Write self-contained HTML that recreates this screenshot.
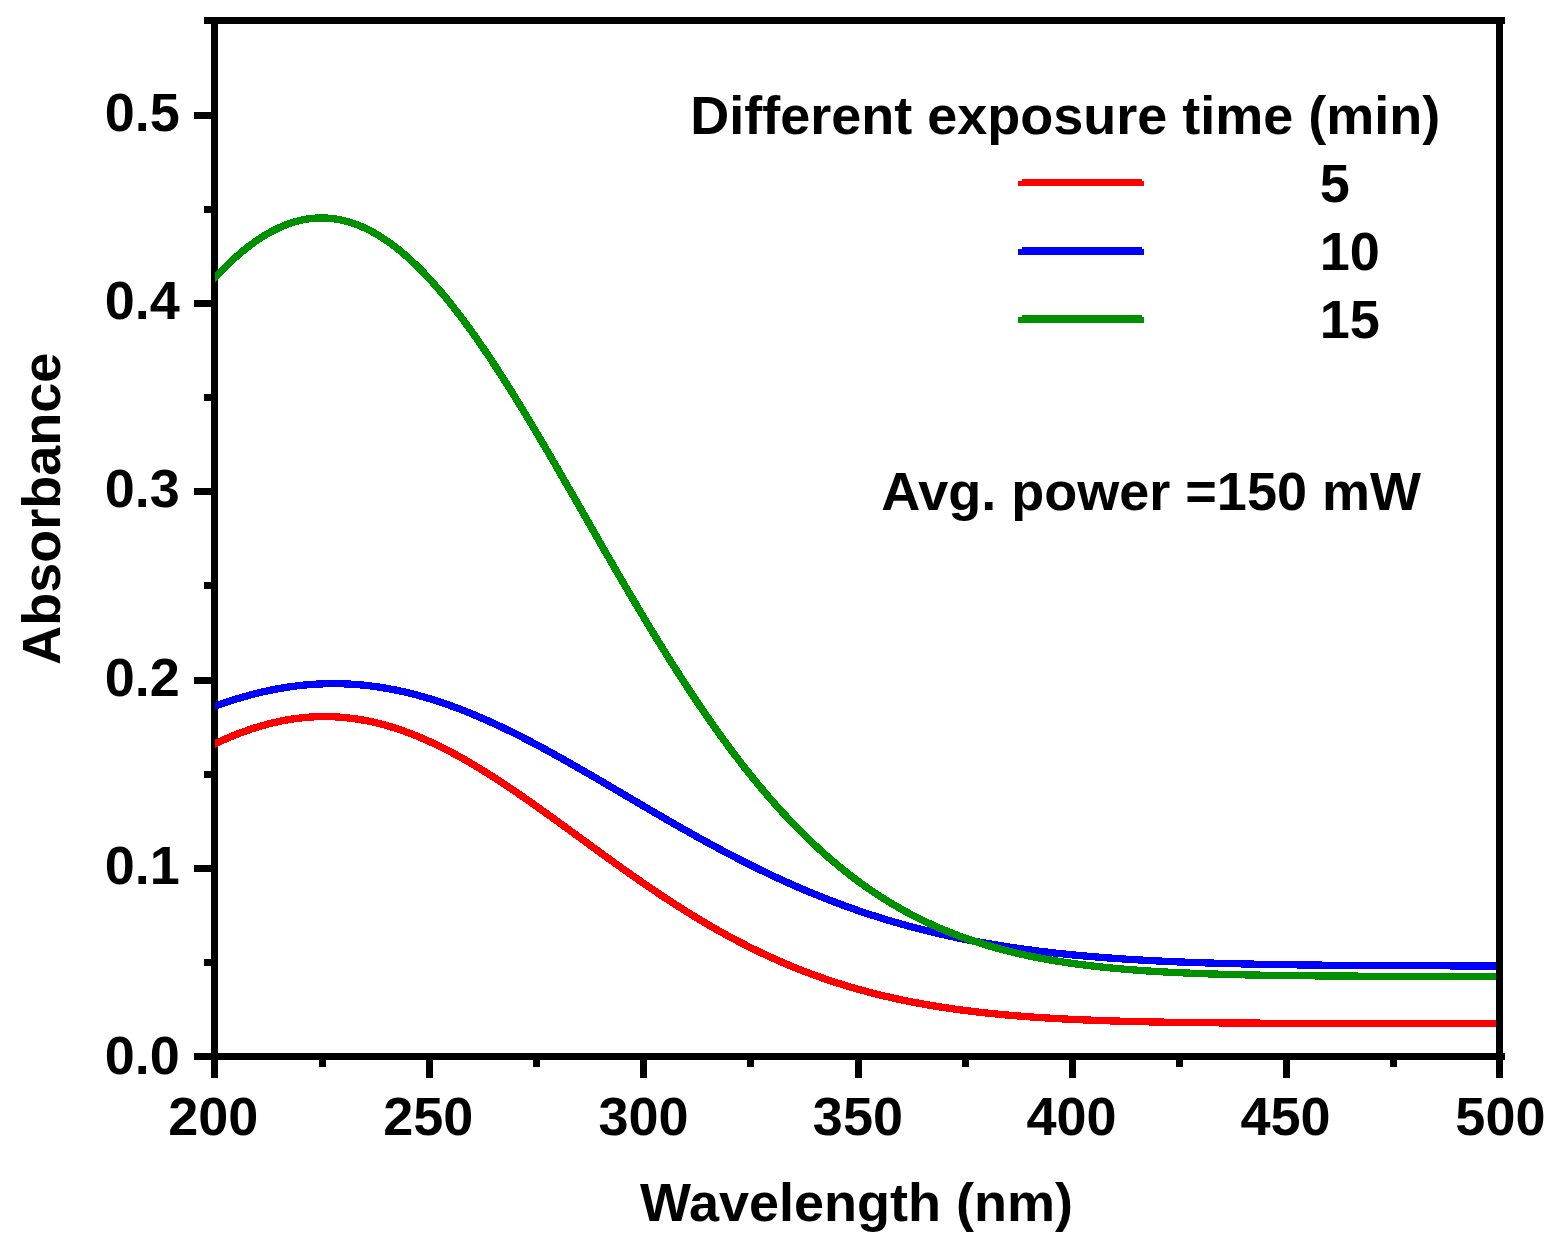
<!DOCTYPE html>
<html><head><meta charset="utf-8"><title>Absorbance vs Wavelength</title>
<style>
html,body{margin:0;padding:0;background:#fff;overflow:hidden;}
svg{display:block;}
text{font-family:"Liberation Sans",Arial,sans-serif;font-weight:bold;font-size:54px;fill:#000;}
</style></head><body>
<svg width="1553" height="1249" viewBox="0 0 1553 1249">
<rect width="1553" height="1249" fill="#fff"/>
<g fill="#000" shape-rendering="crispEdges">
<rect x="211.2" y="17" width="7" height="1043"/>
<rect x="1496.1" y="17" width="7" height="1043"/>
<rect x="204" y="17" width="1300.8" height="7"/>
<rect x="194" y="1053.1" width="1310.8" height="7"/>
<rect x="194" y="1053.1" width="20" height="7"/>
<rect x="204" y="958.9" width="10" height="7"/>
<rect x="194" y="864.8" width="20" height="7"/>
<rect x="204" y="770.6" width="10" height="7"/>
<rect x="194" y="676.5" width="20" height="7"/>
<rect x="204" y="582.3" width="10" height="7"/>
<rect x="194" y="488.1" width="20" height="7"/>
<rect x="204" y="394.0" width="10" height="7"/>
<rect x="194" y="299.8" width="20" height="7"/>
<rect x="204" y="205.7" width="10" height="7"/>
<rect x="194" y="111.5" width="20" height="7"/>
<rect x="204" y="17.3" width="10" height="7"/>
<rect x="211.2" y="1056" width="7" height="21.7"/>
<rect x="318.6" y="1056" width="7" height="10.8"/>
<rect x="425.9" y="1056" width="7" height="21.7"/>
<rect x="532.9" y="1056" width="7" height="10.8"/>
<rect x="640.0" y="1056" width="7" height="21.7"/>
<rect x="747.2" y="1056" width="7" height="10.8"/>
<rect x="854.5" y="1056" width="7" height="21.7"/>
<rect x="961.6" y="1056" width="7" height="10.8"/>
<rect x="1068.9" y="1056" width="7" height="21.7"/>
<rect x="1176.1" y="1056" width="7" height="10.8"/>
<rect x="1283.2" y="1056" width="7" height="21.7"/>
<rect x="1389.9" y="1056" width="7" height="10.8"/>
<rect x="1496.1" y="1056" width="7" height="21.7"/>
</g>
<defs><clipPath id="c"><rect x="215.1" y="20" width="1281" height="1037"/></clipPath></defs>
<g clip-path="url(#c)" fill="none" stroke-width="7.3" stroke-linejoin="round" shape-rendering="crispEdges">
<path stroke="#f00" d="M212.0,745.16 L214.0,744.20 L216.0,743.25 L218.0,742.32 L220.0,741.41 L222.0,740.50 L224.0,739.62 L226.0,738.74 L228.0,737.89 L230.0,737.05 L232.0,736.22 L234.0,735.41 L236.0,734.61 L238.0,733.83 L240.0,733.06 L242.0,732.32 L244.0,731.58 L246.0,730.87 L248.0,730.17 L250.0,729.48 L252.0,728.81 L254.0,728.16 L256.0,727.53 L258.0,726.91 L260.0,726.31 L262.0,725.73 L264.0,725.16 L266.0,724.62 L268.0,724.08 L270.0,723.57 L272.0,723.08 L274.0,722.60 L276.0,722.14 L278.0,721.70 L280.0,721.27 L282.0,720.86 L284.0,720.48 L286.0,720.11 L288.0,719.76 L290.0,719.42 L292.0,719.11 L294.0,718.81 L296.0,718.53 L298.0,718.27 L300.0,718.03 L302.0,717.81 L304.0,717.61 L306.0,717.42 L308.0,717.26 L310.0,717.11 L312.0,716.98 L314.0,716.87 L316.0,716.78 L318.0,716.71 L320.0,716.66 L322.0,716.62 L324.0,716.61 L326.0,716.61 L328.0,716.63 L330.0,716.67 L332.0,716.73 L334.0,716.81 L336.0,716.91 L338.0,717.03 L340.0,717.17 L342.0,717.32 L344.0,717.49 L346.0,717.69 L348.0,717.90 L350.0,718.13 L352.0,718.37 L354.0,718.64 L356.0,718.93 L358.0,719.23 L360.0,719.55 L362.0,719.89 L364.0,720.25 L366.0,720.63 L368.0,721.03 L370.0,721.44 L372.0,721.87 L374.0,722.32 L376.0,722.79 L378.0,723.27 L380.0,723.77 L382.0,724.29 L384.0,724.83 L386.0,725.39 L388.0,725.96 L390.0,726.55 L392.0,727.16 L394.0,727.78 L396.0,728.42 L398.0,729.08 L400.0,729.75 L402.0,730.44 L404.0,731.15 L406.0,731.87 L408.0,732.61 L410.0,733.37 L412.0,734.14 L414.0,734.93 L416.0,735.73 L418.0,736.55 L420.0,737.38 L422.0,738.23 L424.0,739.09 L426.0,739.97 L428.0,740.86 L430.0,741.77 L432.0,742.69 L434.0,743.63 L436.0,744.58 L438.0,745.54 L440.0,746.52 L442.0,747.51 L444.0,748.52 L446.0,749.54 L448.0,750.57 L450.0,751.61 L452.0,752.67 L454.0,753.74 L456.0,754.82 L458.0,755.91 L460.0,757.02 L462.0,758.13 L464.0,759.26 L466.0,760.40 L468.0,761.56 L470.0,762.72 L472.0,763.89 L474.0,765.08 L476.0,766.27 L478.0,767.48 L480.0,768.69 L482.0,769.92 L484.0,771.15 L486.0,772.39 L488.0,773.65 L490.0,774.91 L492.0,776.18 L494.0,777.46 L496.0,778.75 L498.0,780.04 L500.0,781.35 L502.0,782.66 L504.0,783.98 L506.0,785.31 L508.0,786.64 L510.0,787.99 L512.0,789.33 L514.0,790.69 L516.0,792.05 L518.0,793.42 L520.0,794.79 L522.0,796.17 L524.0,797.56 L526.0,798.95 L528.0,800.34 L530.0,801.74 L532.0,803.15 L534.0,804.56 L536.0,805.97 L538.0,807.39 L540.0,808.82 L542.0,810.24 L544.0,811.67 L546.0,813.11 L548.0,814.54 L550.0,815.98 L552.0,817.42 L554.0,818.87 L556.0,820.32 L558.0,821.77 L560.0,823.22 L562.0,824.67 L564.0,826.13 L566.0,827.58 L568.0,829.04 L570.0,830.50 L572.0,831.96 L574.0,833.42 L576.0,834.88 L578.0,836.34 L580.0,837.80 L582.0,839.26 L584.0,840.72 L586.0,842.18 L588.0,843.64 L590.0,845.10 L592.0,846.56 L594.0,848.02 L596.0,849.47 L598.0,850.93 L600.0,852.38 L602.0,853.83 L604.0,855.28 L606.0,856.73 L608.0,858.17 L610.0,859.61 L612.0,861.05 L614.0,862.49 L616.0,863.92 L618.0,865.36 L620.0,866.78 L622.0,868.21 L624.0,869.63 L626.0,871.05 L628.0,872.46 L630.0,873.87 L632.0,875.28 L634.0,876.68 L636.0,878.07 L638.0,879.47 L640.0,880.86 L642.0,882.24 L644.0,883.62 L646.0,884.99 L648.0,886.36 L650.0,887.73 L652.0,889.08 L654.0,890.44 L656.0,891.78 L658.0,893.13 L660.0,894.46 L662.0,895.79 L664.0,897.12 L666.0,898.44 L668.0,899.75 L670.0,901.05 L672.0,902.35 L674.0,903.65 L676.0,904.93 L678.0,906.21 L680.0,907.49 L682.0,908.76 L684.0,910.02 L686.0,911.27 L688.0,912.51 L690.0,913.75 L692.0,914.99 L694.0,916.21 L696.0,917.43 L698.0,918.64 L700.0,919.84 L702.0,921.04 L704.0,922.22 L706.0,923.40 L708.0,924.58 L710.0,925.74 L712.0,926.90 L714.0,928.05 L716.0,929.19 L718.0,930.32 L720.0,931.45 L722.0,932.56 L724.0,933.67 L726.0,934.77 L728.0,935.87 L730.0,936.95 L732.0,938.03 L734.0,939.10 L736.0,940.16 L738.0,941.21 L740.0,942.25 L742.0,943.29 L744.0,944.32 L746.0,945.34 L748.0,946.35 L750.0,947.35 L752.0,948.34 L754.0,949.33 L756.0,950.31 L758.0,951.27 L760.0,952.23 L762.0,953.19 L764.0,954.13 L766.0,955.06 L768.0,955.99 L770.0,956.91 L772.0,957.82 L774.0,958.72 L776.0,959.61 L778.0,960.50 L780.0,961.37 L782.0,962.24 L784.0,963.10 L786.0,963.95 L788.0,964.79 L790.0,965.63 L792.0,966.45 L794.0,967.27 L796.0,968.08 L798.0,968.88 L800.0,969.67 L802.0,970.46 L804.0,971.23 L806.0,972.00 L808.0,972.76 L810.0,973.51 L812.0,974.26 L814.0,974.99 L816.0,975.72 L818.0,976.44 L820.0,977.15 L822.0,977.85 L824.0,978.55 L826.0,979.24 L828.0,979.92 L830.0,980.59 L832.0,981.25 L834.0,981.91 L836.0,982.56 L838.0,983.20 L840.0,983.83 L842.0,984.46 L844.0,985.08 L846.0,985.69 L848.0,986.29 L850.0,986.89 L852.0,987.48 L854.0,988.06 L856.0,988.64 L858.0,989.20 L860.0,989.76 L862.0,990.32 L864.0,990.86 L866.0,991.40 L868.0,991.93 L870.0,992.46 L872.0,992.98 L874.0,993.49 L876.0,993.99 L878.0,994.49 L880.0,994.98 L882.0,995.47 L884.0,995.95 L886.0,996.42 L888.0,996.88 L890.0,997.34 L892.0,997.79 L894.0,998.24 L896.0,998.68 L898.0,999.11 L900.0,999.54 L902.0,999.96 L904.0,1000.38 L906.0,1000.79 L908.0,1001.19 L910.0,1001.59 L912.0,1001.98 L914.0,1002.37 L916.0,1002.75 L918.0,1003.13 L920.0,1003.50 L922.0,1003.86 L924.0,1004.22 L926.0,1004.57 L928.0,1004.92 L930.0,1005.27 L932.0,1005.60 L934.0,1005.94 L936.0,1006.26 L938.0,1006.59 L940.0,1006.90 L942.0,1007.21 L944.0,1007.52 L946.0,1007.82 L948.0,1008.12 L950.0,1008.42 L952.0,1008.70 L954.0,1008.99 L956.0,1009.27 L958.0,1009.54 L960.0,1009.81 L962.0,1010.08 L964.0,1010.34 L966.0,1010.60 L968.0,1010.85 L970.0,1011.10 L972.0,1011.34 L974.0,1011.58 L976.0,1011.82 L978.0,1012.05 L980.0,1012.28 L982.0,1012.51 L984.0,1012.73 L986.0,1012.95 L988.0,1013.16 L990.0,1013.37 L992.0,1013.57 L994.0,1013.78 L996.0,1013.98 L998.0,1014.17 L1000.0,1014.36 L1002.0,1014.55 L1004.0,1014.74 L1006.0,1014.92 L1008.0,1015.10 L1010.0,1015.27 L1012.0,1015.45 L1014.0,1015.62 L1016.0,1015.78 L1018.0,1015.94 L1020.0,1016.10 L1022.0,1016.26 L1024.0,1016.42 L1026.0,1016.57 L1028.0,1016.72 L1030.0,1016.86 L1032.0,1017.00 L1034.0,1017.15 L1036.0,1017.28 L1038.0,1017.42 L1040.0,1017.55 L1042.0,1017.68 L1044.0,1017.81 L1046.0,1017.93 L1048.0,1018.06 L1050.0,1018.18 L1052.0,1018.29 L1054.0,1018.41 L1056.0,1018.52 L1058.0,1018.64 L1060.0,1018.74 L1062.0,1018.85 L1064.0,1018.96 L1066.0,1019.06 L1068.0,1019.16 L1070.0,1019.26 L1072.0,1019.35 L1074.0,1019.45 L1076.0,1019.54 L1078.0,1019.63 L1080.0,1019.72 L1082.0,1019.81 L1084.0,1019.89 L1086.0,1019.98 L1088.0,1020.06 L1090.0,1020.14 L1092.0,1020.22 L1094.0,1020.30 L1096.0,1020.37 L1098.0,1020.45 L1100.0,1020.52 L1102.0,1020.59 L1104.0,1020.66 L1106.0,1020.73 L1108.0,1020.79 L1110.0,1020.86 L1112.0,1020.92 L1114.0,1020.98 L1116.0,1021.04 L1118.0,1021.10 L1120.0,1021.16 L1122.0,1021.22 L1124.0,1021.27 L1126.0,1021.33 L1128.0,1021.38 L1130.0,1021.43 L1132.0,1021.48 L1134.0,1021.53 L1136.0,1021.58 L1138.0,1021.63 L1140.0,1021.68 L1142.0,1021.72 L1144.0,1021.77 L1146.0,1021.81 L1148.0,1021.85 L1150.0,1021.89 L1152.0,1021.94 L1154.0,1021.98 L1156.0,1022.01 L1158.0,1022.05 L1160.0,1022.09 L1162.0,1022.12 L1164.0,1022.16 L1166.0,1022.19 L1168.0,1022.23 L1170.0,1022.26 L1172.0,1022.29 L1174.0,1022.32 L1176.0,1022.36 L1178.0,1022.39 L1180.0,1022.41 L1182.0,1022.44 L1184.0,1022.47 L1186.0,1022.50 L1188.0,1022.52 L1190.0,1022.55 L1192.0,1022.58 L1194.0,1022.60 L1196.0,1022.62 L1198.0,1022.65 L1200.0,1022.67 L1202.0,1022.69 L1204.0,1022.72 L1206.0,1022.74 L1208.0,1022.76 L1210.0,1022.78 L1212.0,1022.80 L1214.0,1022.82 L1216.0,1022.84 L1218.0,1022.85 L1220.0,1022.87 L1222.0,1022.89 L1224.0,1022.91 L1226.0,1022.92 L1228.0,1022.94 L1230.0,1022.95 L1232.0,1022.97 L1234.0,1022.98 L1236.0,1023.00 L1238.0,1023.01 L1240.0,1023.03 L1242.0,1023.04 L1244.0,1023.05 L1246.0,1023.07 L1248.0,1023.08 L1250.0,1023.09 L1252.0,1023.10 L1254.0,1023.11 L1256.0,1023.13 L1258.0,1023.14 L1260.0,1023.15 L1262.0,1023.16 L1264.0,1023.17 L1266.0,1023.18 L1268.0,1023.19 L1270.0,1023.20 L1272.0,1023.20 L1274.0,1023.21 L1276.0,1023.22 L1278.0,1023.23 L1280.0,1023.24 L1282.0,1023.25 L1284.0,1023.25 L1286.0,1023.26 L1288.0,1023.27 L1290.0,1023.28 L1292.0,1023.28 L1294.0,1023.29 L1296.0,1023.30 L1298.0,1023.30 L1300.0,1023.31 L1302.0,1023.31 L1304.0,1023.32 L1306.0,1023.33 L1308.0,1023.33 L1310.0,1023.34 L1312.0,1023.34 L1314.0,1023.35 L1316.0,1023.35 L1318.0,1023.36 L1320.0,1023.36 L1322.0,1023.37 L1324.0,1023.37 L1326.0,1023.37 L1328.0,1023.38 L1330.0,1023.38 L1332.0,1023.39 L1334.0,1023.39 L1336.0,1023.39 L1338.0,1023.40 L1340.0,1023.40 L1342.0,1023.40 L1344.0,1023.41 L1346.0,1023.41 L1348.0,1023.41 L1350.0,1023.42 L1352.0,1023.42 L1354.0,1023.42 L1356.0,1023.43 L1358.0,1023.43 L1360.0,1023.43 L1362.0,1023.43 L1364.0,1023.44 L1366.0,1023.44 L1368.0,1023.44 L1370.0,1023.44 L1372.0,1023.44 L1374.0,1023.45 L1376.0,1023.45 L1378.0,1023.45 L1380.0,1023.45 L1382.0,1023.45 L1384.0,1023.46 L1386.0,1023.46 L1388.0,1023.46 L1390.0,1023.46 L1392.0,1023.46 L1394.0,1023.46 L1396.0,1023.47 L1398.0,1023.47 L1400.0,1023.47 L1402.0,1023.47 L1404.0,1023.47 L1406.0,1023.47 L1408.0,1023.47 L1410.0,1023.48 L1412.0,1023.48 L1414.0,1023.48 L1416.0,1023.48 L1418.0,1023.48 L1420.0,1023.48 L1422.0,1023.48 L1424.0,1023.48 L1426.0,1023.48 L1428.0,1023.48 L1430.0,1023.49 L1432.0,1023.49 L1434.0,1023.49 L1436.0,1023.49 L1438.0,1023.49 L1440.0,1023.49 L1442.0,1023.49 L1444.0,1023.49 L1446.0,1023.49 L1448.0,1023.49 L1450.0,1023.49 L1452.0,1023.49 L1454.0,1023.49 L1456.0,1023.49 L1458.0,1023.49 L1460.0,1023.50 L1462.0,1023.50 L1464.0,1023.50 L1466.0,1023.50 L1468.0,1023.50 L1470.0,1023.50 L1472.0,1023.50 L1474.0,1023.50 L1476.0,1023.50 L1478.0,1023.50 L1480.0,1023.50 L1482.0,1023.50 L1484.0,1023.50 L1486.0,1023.50 L1488.0,1023.50 L1490.0,1023.50 L1492.0,1023.50 L1494.0,1023.50 L1496.0,1023.50 L1498.0,1023.50 L1500.0,1023.50"/>
<path stroke="#00f" d="M212.0,707.26 L214.0,706.52 L216.0,705.80 L218.0,705.08 L220.0,704.37 L222.0,703.67 L224.0,702.99 L226.0,702.31 L228.0,701.65 L230.0,700.99 L232.0,700.35 L234.0,699.72 L236.0,699.10 L238.0,698.49 L240.0,697.89 L242.0,697.30 L244.0,696.72 L246.0,696.16 L248.0,695.61 L250.0,695.07 L252.0,694.54 L254.0,694.02 L256.0,693.51 L258.0,693.02 L260.0,692.54 L262.0,692.07 L264.0,691.61 L266.0,691.17 L268.0,690.74 L270.0,690.31 L272.0,689.91 L274.0,689.51 L276.0,689.13 L278.0,688.76 L280.0,688.40 L282.0,688.06 L284.0,687.72 L286.0,687.40 L288.0,687.10 L290.0,686.80 L292.0,686.52 L294.0,686.26 L296.0,686.00 L298.0,685.76 L300.0,685.53 L302.0,685.31 L304.0,685.11 L306.0,684.92 L308.0,684.75 L310.0,684.58 L312.0,684.43 L314.0,684.30 L316.0,684.17 L318.0,684.06 L320.0,683.97 L322.0,683.88 L324.0,683.81 L326.0,683.76 L328.0,683.71 L330.0,683.68 L332.0,683.67 L334.0,683.66 L336.0,683.67 L338.0,683.70 L340.0,683.73 L342.0,683.78 L344.0,683.85 L346.0,683.92 L348.0,684.01 L350.0,684.12 L352.0,684.23 L354.0,684.36 L356.0,684.51 L358.0,684.66 L360.0,684.83 L362.0,685.02 L364.0,685.21 L366.0,685.42 L368.0,685.64 L370.0,685.88 L372.0,686.13 L374.0,686.39 L376.0,686.66 L378.0,686.95 L380.0,687.25 L382.0,687.56 L384.0,687.89 L386.0,688.23 L388.0,688.58 L390.0,688.94 L392.0,689.32 L394.0,689.71 L396.0,690.11 L398.0,690.52 L400.0,690.95 L402.0,691.39 L404.0,691.84 L406.0,692.30 L408.0,692.78 L410.0,693.27 L412.0,693.77 L414.0,694.28 L416.0,694.80 L418.0,695.34 L420.0,695.88 L422.0,696.44 L424.0,697.01 L426.0,697.59 L428.0,698.18 L430.0,698.79 L432.0,699.40 L434.0,700.03 L436.0,700.67 L438.0,701.32 L440.0,701.98 L442.0,702.65 L444.0,703.33 L446.0,704.02 L448.0,704.72 L450.0,705.44 L452.0,706.16 L454.0,706.89 L456.0,707.64 L458.0,708.39 L460.0,709.15 L462.0,709.93 L464.0,710.71 L466.0,711.50 L468.0,712.31 L470.0,713.12 L472.0,713.94 L474.0,714.77 L476.0,715.61 L478.0,716.46 L480.0,717.31 L482.0,718.18 L484.0,719.05 L486.0,719.94 L488.0,720.83 L490.0,721.73 L492.0,722.64 L494.0,723.55 L496.0,724.48 L498.0,725.41 L500.0,726.35 L502.0,727.30 L504.0,728.25 L506.0,729.22 L508.0,730.19 L510.0,731.16 L512.0,732.15 L514.0,733.14 L516.0,734.14 L518.0,735.14 L520.0,736.15 L522.0,737.17 L524.0,738.19 L526.0,739.22 L528.0,740.26 L530.0,741.30 L532.0,742.34 L534.0,743.40 L536.0,744.46 L538.0,745.52 L540.0,746.59 L542.0,747.66 L544.0,748.74 L546.0,749.83 L548.0,750.92 L550.0,752.01 L552.0,753.11 L554.0,754.21 L556.0,755.32 L558.0,756.43 L560.0,757.54 L562.0,758.66 L564.0,759.78 L566.0,760.91 L568.0,762.04 L570.0,763.17 L572.0,764.31 L574.0,765.45 L576.0,766.59 L578.0,767.74 L580.0,768.88 L582.0,770.03 L584.0,771.19 L586.0,772.34 L588.0,773.50 L590.0,774.66 L592.0,775.82 L594.0,776.99 L596.0,778.15 L598.0,779.32 L600.0,780.49 L602.0,781.66 L604.0,782.83 L606.0,784.00 L608.0,785.18 L610.0,786.35 L612.0,787.53 L614.0,788.70 L616.0,789.88 L618.0,791.06 L620.0,792.23 L622.0,793.41 L624.0,794.59 L626.0,795.77 L628.0,796.94 L630.0,798.12 L632.0,799.30 L634.0,800.48 L636.0,801.65 L638.0,802.83 L640.0,804.00 L642.0,805.18 L644.0,806.35 L646.0,807.52 L648.0,808.69 L650.0,809.86 L652.0,811.03 L654.0,812.20 L656.0,813.36 L658.0,814.53 L660.0,815.69 L662.0,816.85 L664.0,818.01 L666.0,819.16 L668.0,820.32 L670.0,821.47 L672.0,822.62 L674.0,823.76 L676.0,824.91 L678.0,826.05 L680.0,827.19 L682.0,828.33 L684.0,829.46 L686.0,830.59 L688.0,831.72 L690.0,832.84 L692.0,833.96 L694.0,835.08 L696.0,836.20 L698.0,837.31 L700.0,838.42 L702.0,839.52 L704.0,840.62 L706.0,841.72 L708.0,842.81 L710.0,843.90 L712.0,844.99 L714.0,846.07 L716.0,847.14 L718.0,848.22 L720.0,849.29 L722.0,850.35 L724.0,851.41 L726.0,852.47 L728.0,853.52 L730.0,854.57 L732.0,855.61 L734.0,856.65 L736.0,857.68 L738.0,858.71 L740.0,859.74 L742.0,860.76 L744.0,861.77 L746.0,862.78 L748.0,863.79 L750.0,864.79 L752.0,865.78 L754.0,866.77 L756.0,867.75 L758.0,868.73 L760.0,869.71 L762.0,870.68 L764.0,871.64 L766.0,872.60 L768.0,873.55 L770.0,874.50 L772.0,875.44 L774.0,876.38 L776.0,877.31 L778.0,878.24 L780.0,879.16 L782.0,880.07 L784.0,880.98 L786.0,881.88 L788.0,882.78 L790.0,883.67 L792.0,884.56 L794.0,885.44 L796.0,886.31 L798.0,887.18 L800.0,888.05 L802.0,888.90 L804.0,889.76 L806.0,890.60 L808.0,891.44 L810.0,892.28 L812.0,893.10 L814.0,893.93 L816.0,894.74 L818.0,895.55 L820.0,896.36 L822.0,897.16 L824.0,897.95 L826.0,898.74 L828.0,899.52 L830.0,900.29 L832.0,901.06 L834.0,901.82 L836.0,902.58 L838.0,903.33 L840.0,904.08 L842.0,904.82 L844.0,905.55 L846.0,906.28 L848.0,907.00 L850.0,907.71 L852.0,908.42 L854.0,909.13 L856.0,909.82 L858.0,910.52 L860.0,911.20 L862.0,911.88 L864.0,912.55 L866.0,913.22 L868.0,913.88 L870.0,914.54 L872.0,915.19 L874.0,915.84 L876.0,916.47 L878.0,917.11 L880.0,917.73 L882.0,918.36 L884.0,918.97 L886.0,919.58 L888.0,920.19 L890.0,920.78 L892.0,921.38 L894.0,921.96 L896.0,922.54 L898.0,923.12 L900.0,923.69 L902.0,924.25 L904.0,924.81 L906.0,925.37 L908.0,925.91 L910.0,926.46 L912.0,926.99 L914.0,927.53 L916.0,928.05 L918.0,928.57 L920.0,929.09 L922.0,929.60 L924.0,930.10 L926.0,930.60 L928.0,931.09 L930.0,931.58 L932.0,932.07 L934.0,932.54 L936.0,933.02 L938.0,933.48 L940.0,933.95 L942.0,934.41 L944.0,934.86 L946.0,935.31 L948.0,935.75 L950.0,936.19 L952.0,936.62 L954.0,937.05 L956.0,937.47 L958.0,937.89 L960.0,938.30 L962.0,938.71 L964.0,939.11 L966.0,939.51 L968.0,939.91 L970.0,940.30 L972.0,940.68 L974.0,941.06 L976.0,941.44 L978.0,941.81 L980.0,942.18 L982.0,942.54 L984.0,942.90 L986.0,943.25 L988.0,943.60 L990.0,943.94 L992.0,944.28 L994.0,944.62 L996.0,944.95 L998.0,945.28 L1000.0,945.61 L1002.0,945.93 L1004.0,946.24 L1006.0,946.55 L1008.0,946.86 L1010.0,947.16 L1012.0,947.46 L1014.0,947.76 L1016.0,948.05 L1018.0,948.34 L1020.0,948.63 L1022.0,948.91 L1024.0,949.18 L1026.0,949.46 L1028.0,949.73 L1030.0,949.99 L1032.0,950.25 L1034.0,950.51 L1036.0,950.77 L1038.0,951.02 L1040.0,951.27 L1042.0,951.51 L1044.0,951.76 L1046.0,951.99 L1048.0,952.23 L1050.0,952.46 L1052.0,952.69 L1054.0,952.91 L1056.0,953.14 L1058.0,953.35 L1060.0,953.57 L1062.0,953.78 L1064.0,953.99 L1066.0,954.20 L1068.0,954.40 L1070.0,954.60 L1072.0,954.80 L1074.0,954.99 L1076.0,955.19 L1078.0,955.38 L1080.0,955.56 L1082.0,955.74 L1084.0,955.93 L1086.0,956.10 L1088.0,956.28 L1090.0,956.45 L1092.0,956.62 L1094.0,956.79 L1096.0,956.95 L1098.0,957.12 L1100.0,957.28 L1102.0,957.43 L1104.0,957.59 L1106.0,957.74 L1108.0,957.89 L1110.0,958.04 L1112.0,958.19 L1114.0,958.33 L1116.0,958.47 L1118.0,958.61 L1120.0,958.74 L1122.0,958.88 L1124.0,959.01 L1126.0,959.14 L1128.0,959.27 L1130.0,959.40 L1132.0,959.52 L1134.0,959.64 L1136.0,959.76 L1138.0,959.88 L1140.0,960.00 L1142.0,960.11 L1144.0,960.22 L1146.0,960.33 L1148.0,960.44 L1150.0,960.55 L1152.0,960.65 L1154.0,960.76 L1156.0,960.86 L1158.0,960.96 L1160.0,961.06 L1162.0,961.15 L1164.0,961.25 L1166.0,961.34 L1168.0,961.43 L1170.0,961.52 L1172.0,961.61 L1174.0,961.70 L1176.0,961.78 L1178.0,961.87 L1180.0,961.95 L1182.0,962.03 L1184.0,962.11 L1186.0,962.19 L1188.0,962.26 L1190.0,962.34 L1192.0,962.41 L1194.0,962.49 L1196.0,962.56 L1198.0,962.63 L1200.0,962.70 L1202.0,962.76 L1204.0,962.83 L1206.0,962.90 L1208.0,962.96 L1210.0,963.02 L1212.0,963.08 L1214.0,963.15 L1216.0,963.20 L1218.0,963.26 L1220.0,963.32 L1222.0,963.38 L1224.0,963.43 L1226.0,963.49 L1228.0,963.54 L1230.0,963.59 L1232.0,963.64 L1234.0,963.69 L1236.0,963.74 L1238.0,963.79 L1240.0,963.84 L1242.0,963.88 L1244.0,963.93 L1246.0,963.97 L1248.0,964.02 L1250.0,964.06 L1252.0,964.10 L1254.0,964.15 L1256.0,964.19 L1258.0,964.23 L1260.0,964.27 L1262.0,964.30 L1264.0,964.34 L1266.0,964.38 L1268.0,964.41 L1270.0,964.45 L1272.0,964.48 L1274.0,964.52 L1276.0,964.55 L1278.0,964.58 L1280.0,964.62 L1282.0,964.65 L1284.0,964.68 L1286.0,964.71 L1288.0,964.74 L1290.0,964.77 L1292.0,964.79 L1294.0,964.82 L1296.0,964.85 L1298.0,964.88 L1300.0,964.90 L1302.0,964.93 L1304.0,964.95 L1306.0,964.98 L1308.0,965.00 L1310.0,965.02 L1312.0,965.05 L1314.0,965.07 L1316.0,965.09 L1318.0,965.11 L1320.0,965.13 L1322.0,965.15 L1324.0,965.18 L1326.0,965.20 L1328.0,965.21 L1330.0,965.23 L1332.0,965.25 L1334.0,965.27 L1336.0,965.29 L1338.0,965.31 L1340.0,965.32 L1342.0,965.34 L1344.0,965.36 L1346.0,965.37 L1348.0,965.39 L1350.0,965.40 L1352.0,965.42 L1354.0,965.43 L1356.0,965.45 L1358.0,965.46 L1360.0,965.47 L1362.0,965.49 L1364.0,965.50 L1366.0,965.51 L1368.0,965.53 L1370.0,965.54 L1372.0,965.55 L1374.0,965.56 L1376.0,965.57 L1378.0,965.58 L1380.0,965.59 L1382.0,965.60 L1384.0,965.62 L1386.0,965.63 L1388.0,965.64 L1390.0,965.65 L1392.0,965.65 L1394.0,965.66 L1396.0,965.67 L1398.0,965.68 L1400.0,965.69 L1402.0,965.70 L1404.0,965.71 L1406.0,965.72 L1408.0,965.72 L1410.0,965.73 L1412.0,965.74 L1414.0,965.75 L1416.0,965.75 L1418.0,965.76 L1420.0,965.77 L1422.0,965.77 L1424.0,965.78 L1426.0,965.79 L1428.0,965.79 L1430.0,965.80 L1432.0,965.80 L1434.0,965.81 L1436.0,965.82 L1438.0,965.82 L1440.0,965.83 L1442.0,965.83 L1444.0,965.84 L1446.0,965.84 L1448.0,965.85 L1450.0,965.85 L1452.0,965.86 L1454.0,965.86 L1456.0,965.87 L1458.0,965.87 L1460.0,965.87 L1462.0,965.88 L1464.0,965.88 L1466.0,965.89 L1468.0,965.89 L1470.0,965.89 L1472.0,965.90 L1474.0,965.90 L1476.0,965.90 L1478.0,965.91 L1480.0,965.91 L1482.0,965.91 L1484.0,965.92 L1486.0,965.92 L1488.0,965.92 L1490.0,965.93 L1492.0,965.93 L1494.0,965.93 L1496.0,965.93 L1498.0,965.94 L1500.0,965.94"/>
<path stroke="#009100" d="M212.0,280.83 L214.0,278.65 L216.0,276.50 L218.0,274.38 L220.0,272.30 L222.0,270.26 L224.0,268.25 L226.0,266.27 L228.0,264.34 L230.0,262.43 L232.0,260.56 L234.0,258.73 L236.0,256.94 L238.0,255.18 L240.0,253.46 L242.0,251.78 L244.0,250.14 L246.0,248.53 L248.0,246.96 L250.0,245.44 L252.0,243.95 L254.0,242.50 L256.0,241.09 L258.0,239.72 L260.0,238.39 L262.0,237.09 L264.0,235.84 L266.0,234.64 L268.0,233.47 L270.0,232.34 L272.0,231.25 L274.0,230.21 L276.0,229.20 L278.0,228.24 L280.0,227.32 L282.0,226.45 L284.0,225.61 L286.0,224.82 L288.0,224.07 L290.0,223.36 L292.0,222.70 L294.0,222.08 L296.0,221.50 L298.0,220.96 L300.0,220.47 L302.0,220.02 L304.0,219.61 L306.0,219.25 L308.0,218.93 L310.0,218.66 L312.0,218.43 L314.0,218.24 L316.0,218.09 L318.0,217.99 L320.0,217.94 L322.0,217.92 L324.0,217.95 L326.0,218.03 L328.0,218.15 L330.0,218.31 L332.0,218.51 L334.0,218.76 L336.0,219.06 L338.0,219.39 L340.0,219.77 L342.0,220.19 L344.0,220.66 L346.0,221.17 L348.0,221.72 L350.0,222.32 L352.0,222.96 L354.0,223.64 L356.0,224.36 L358.0,225.13 L360.0,225.94 L362.0,226.79 L364.0,227.69 L366.0,228.62 L368.0,229.60 L370.0,230.62 L372.0,231.68 L374.0,232.79 L376.0,233.93 L378.0,235.11 L380.0,236.34 L382.0,237.61 L384.0,238.91 L386.0,240.26 L388.0,241.65 L390.0,243.07 L392.0,244.54 L394.0,246.04 L396.0,247.59 L398.0,249.17 L400.0,250.79 L402.0,252.45 L404.0,254.15 L406.0,255.88 L408.0,257.65 L410.0,259.46 L412.0,261.31 L414.0,263.19 L416.0,265.11 L418.0,267.06 L420.0,269.05 L422.0,271.07 L424.0,273.13 L426.0,275.23 L428.0,277.35 L430.0,279.51 L432.0,281.71 L434.0,283.94 L436.0,286.20 L438.0,288.49 L440.0,290.81 L442.0,293.17 L444.0,295.56 L446.0,297.97 L448.0,300.42 L450.0,302.90 L452.0,305.41 L454.0,307.95 L456.0,310.51 L458.0,313.11 L460.0,315.73 L462.0,318.38 L464.0,321.06 L466.0,323.76 L468.0,326.49 L470.0,329.25 L472.0,332.03 L474.0,334.83 L476.0,337.66 L478.0,340.52 L480.0,343.40 L482.0,346.30 L484.0,349.23 L486.0,352.17 L488.0,355.14 L490.0,358.13 L492.0,361.15 L494.0,364.18 L496.0,367.23 L498.0,370.31 L500.0,373.40 L502.0,376.51 L504.0,379.64 L506.0,382.78 L508.0,385.95 L510.0,389.13 L512.0,392.33 L514.0,395.54 L516.0,398.77 L518.0,402.02 L520.0,405.28 L522.0,408.55 L524.0,411.84 L526.0,415.14 L528.0,418.45 L530.0,421.78 L532.0,425.12 L534.0,428.47 L536.0,431.83 L538.0,435.20 L540.0,438.58 L542.0,441.97 L544.0,445.37 L546.0,448.78 L548.0,452.20 L550.0,455.63 L552.0,459.06 L554.0,462.50 L556.0,465.94 L558.0,469.40 L560.0,472.86 L562.0,476.32 L564.0,479.79 L566.0,483.26 L568.0,486.74 L570.0,490.22 L572.0,493.70 L574.0,497.19 L576.0,500.68 L578.0,504.17 L580.0,507.66 L582.0,511.15 L584.0,514.64 L586.0,518.14 L588.0,521.63 L590.0,525.12 L592.0,528.61 L594.0,532.10 L596.0,535.59 L598.0,539.08 L600.0,542.56 L602.0,546.04 L604.0,549.52 L606.0,552.99 L608.0,556.46 L610.0,559.93 L612.0,563.39 L614.0,566.85 L616.0,570.30 L618.0,573.74 L620.0,577.18 L622.0,580.61 L624.0,584.03 L626.0,587.45 L628.0,590.86 L630.0,594.26 L632.0,597.66 L634.0,601.04 L636.0,604.42 L638.0,607.79 L640.0,611.14 L642.0,614.49 L644.0,617.83 L646.0,621.16 L648.0,624.48 L650.0,627.78 L652.0,631.08 L654.0,634.36 L656.0,637.63 L658.0,640.89 L660.0,644.14 L662.0,647.38 L664.0,650.60 L666.0,653.81 L668.0,657.01 L670.0,660.19 L672.0,663.36 L674.0,666.52 L676.0,669.66 L678.0,672.79 L680.0,675.90 L682.0,679.00 L684.0,682.08 L686.0,685.15 L688.0,688.20 L690.0,691.24 L692.0,694.26 L694.0,697.26 L696.0,700.25 L698.0,703.23 L700.0,706.18 L702.0,709.12 L704.0,712.05 L706.0,714.95 L708.0,717.84 L710.0,720.71 L712.0,723.57 L714.0,726.41 L716.0,729.23 L718.0,732.03 L720.0,734.81 L722.0,737.58 L724.0,740.33 L726.0,743.06 L728.0,745.77 L730.0,748.46 L732.0,751.14 L734.0,753.80 L736.0,756.43 L738.0,759.05 L740.0,761.65 L742.0,764.23 L744.0,766.80 L746.0,769.34 L748.0,771.87 L750.0,774.37 L752.0,776.86 L754.0,779.32 L756.0,781.77 L758.0,784.20 L760.0,786.61 L762.0,789.00 L764.0,791.37 L766.0,793.72 L768.0,796.05 L770.0,798.36 L772.0,800.66 L774.0,802.93 L776.0,805.18 L778.0,807.42 L780.0,809.63 L782.0,811.83 L784.0,814.00 L786.0,816.16 L788.0,818.29 L790.0,820.41 L792.0,822.51 L794.0,824.59 L796.0,826.65 L798.0,828.69 L800.0,830.71 L802.0,832.71 L804.0,834.69 L806.0,836.65 L808.0,838.59 L810.0,840.52 L812.0,842.42 L814.0,844.31 L816.0,846.17 L818.0,848.02 L820.0,849.85 L822.0,851.66 L824.0,853.45 L826.0,855.22 L828.0,856.98 L830.0,858.71 L832.0,860.43 L834.0,862.13 L836.0,863.81 L838.0,865.47 L840.0,867.11 L842.0,868.74 L844.0,870.34 L846.0,871.93 L848.0,873.50 L850.0,875.06 L852.0,876.59 L854.0,878.11 L856.0,879.61 L858.0,881.10 L860.0,882.56 L862.0,884.01 L864.0,885.44 L866.0,886.86 L868.0,888.26 L870.0,889.64 L872.0,891.00 L874.0,892.35 L876.0,893.68 L878.0,895.00 L880.0,896.30 L882.0,897.58 L884.0,898.84 L886.0,900.10 L888.0,901.33 L890.0,902.55 L892.0,903.75 L894.0,904.94 L896.0,906.11 L898.0,907.27 L900.0,908.41 L902.0,909.54 L904.0,910.65 L906.0,911.75 L908.0,912.83 L910.0,913.90 L912.0,914.96 L914.0,916.00 L916.0,917.02 L918.0,918.03 L920.0,919.03 L922.0,920.02 L924.0,920.99 L926.0,921.94 L928.0,922.89 L930.0,923.82 L932.0,924.73 L934.0,925.64 L936.0,926.53 L938.0,927.41 L940.0,928.27 L942.0,929.13 L944.0,929.97 L946.0,930.79 L948.0,931.61 L950.0,932.41 L952.0,933.21 L954.0,933.99 L956.0,934.76 L958.0,935.51 L960.0,936.26 L962.0,936.99 L964.0,937.72 L966.0,938.43 L968.0,939.13 L970.0,939.82 L972.0,940.50 L974.0,941.17 L976.0,941.83 L978.0,942.48 L980.0,943.12 L982.0,943.74 L984.0,944.36 L986.0,944.97 L988.0,945.57 L990.0,946.16 L992.0,946.74 L994.0,947.31 L996.0,947.87 L998.0,948.42 L1000.0,948.96 L1002.0,949.50 L1004.0,950.02 L1006.0,950.54 L1008.0,951.04 L1010.0,951.54 L1012.0,952.03 L1014.0,952.52 L1016.0,952.99 L1018.0,953.46 L1020.0,953.91 L1022.0,954.36 L1024.0,954.81 L1026.0,955.24 L1028.0,955.67 L1030.0,956.09 L1032.0,956.50 L1034.0,956.91 L1036.0,957.31 L1038.0,957.70 L1040.0,958.08 L1042.0,958.46 L1044.0,958.83 L1046.0,959.19 L1048.0,959.55 L1050.0,959.90 L1052.0,960.25 L1054.0,960.59 L1056.0,960.92 L1058.0,961.24 L1060.0,961.57 L1062.0,961.88 L1064.0,962.19 L1066.0,962.49 L1068.0,962.79 L1070.0,963.08 L1072.0,963.37 L1074.0,963.65 L1076.0,963.92 L1078.0,964.19 L1080.0,964.46 L1082.0,964.72 L1084.0,964.97 L1086.0,965.22 L1088.0,965.47 L1090.0,965.71 L1092.0,965.95 L1094.0,966.18 L1096.0,966.41 L1098.0,966.63 L1100.0,966.85 L1102.0,967.06 L1104.0,967.27 L1106.0,967.48 L1108.0,967.68 L1110.0,967.87 L1112.0,968.07 L1114.0,968.26 L1116.0,968.44 L1118.0,968.63 L1120.0,968.80 L1122.0,968.98 L1124.0,969.15 L1126.0,969.32 L1128.0,969.48 L1130.0,969.64 L1132.0,969.80 L1134.0,969.95 L1136.0,970.11 L1138.0,970.25 L1140.0,970.40 L1142.0,970.54 L1144.0,970.68 L1146.0,970.82 L1148.0,970.95 L1150.0,971.08 L1152.0,971.21 L1154.0,971.33 L1156.0,971.45 L1158.0,971.57 L1160.0,971.69 L1162.0,971.80 L1164.0,971.92 L1166.0,972.03 L1168.0,972.13 L1170.0,972.24 L1172.0,972.34 L1174.0,972.44 L1176.0,972.54 L1178.0,972.63 L1180.0,972.73 L1182.0,972.82 L1184.0,972.91 L1186.0,973.00 L1188.0,973.08 L1190.0,973.17 L1192.0,973.25 L1194.0,973.33 L1196.0,973.41 L1198.0,973.48 L1200.0,973.56 L1202.0,973.63 L1204.0,973.70 L1206.0,973.77 L1208.0,973.84 L1210.0,973.91 L1212.0,973.97 L1214.0,974.04 L1216.0,974.10 L1218.0,974.16 L1220.0,974.22 L1222.0,974.27 L1224.0,974.33 L1226.0,974.39 L1228.0,974.44 L1230.0,974.49 L1232.0,974.54 L1234.0,974.59 L1236.0,974.64 L1238.0,974.69 L1240.0,974.74 L1242.0,974.78 L1244.0,974.83 L1246.0,974.87 L1248.0,974.91 L1250.0,974.95 L1252.0,974.99 L1254.0,975.03 L1256.0,975.07 L1258.0,975.11 L1260.0,975.15 L1262.0,975.18 L1264.0,975.22 L1266.0,975.25 L1268.0,975.28 L1270.0,975.31 L1272.0,975.35 L1274.0,975.38 L1276.0,975.41 L1278.0,975.44 L1280.0,975.46 L1282.0,975.49 L1284.0,975.52 L1286.0,975.54 L1288.0,975.57 L1290.0,975.59 L1292.0,975.62 L1294.0,975.64 L1296.0,975.67 L1298.0,975.69 L1300.0,975.71 L1302.0,975.73 L1304.0,975.75 L1306.0,975.77 L1308.0,975.79 L1310.0,975.81 L1312.0,975.83 L1314.0,975.85 L1316.0,975.87 L1318.0,975.88 L1320.0,975.90 L1322.0,975.92 L1324.0,975.93 L1326.0,975.95 L1328.0,975.96 L1330.0,975.98 L1332.0,975.99 L1334.0,976.01 L1336.0,976.02 L1338.0,976.03 L1340.0,976.05 L1342.0,976.06 L1344.0,976.07 L1346.0,976.08 L1348.0,976.09 L1350.0,976.10 L1352.0,976.11 L1354.0,976.13 L1356.0,976.14 L1358.0,976.15 L1360.0,976.16 L1362.0,976.16 L1364.0,976.17 L1366.0,976.18 L1368.0,976.19 L1370.0,976.20 L1372.0,976.21 L1374.0,976.22 L1376.0,976.22 L1378.0,976.23 L1380.0,976.24 L1382.0,976.25 L1384.0,976.25 L1386.0,976.26 L1388.0,976.27 L1390.0,976.27 L1392.0,976.28 L1394.0,976.28 L1396.0,976.29 L1398.0,976.30 L1400.0,976.30 L1402.0,976.31 L1404.0,976.31 L1406.0,976.32 L1408.0,976.32 L1410.0,976.33 L1412.0,976.33 L1414.0,976.34 L1416.0,976.34 L1418.0,976.34 L1420.0,976.35 L1422.0,976.35 L1424.0,976.36 L1426.0,976.36 L1428.0,976.36 L1430.0,976.37 L1432.0,976.37 L1434.0,976.37 L1436.0,976.38 L1438.0,976.38 L1440.0,976.38 L1442.0,976.39 L1444.0,976.39 L1446.0,976.39 L1448.0,976.39 L1450.0,976.40 L1452.0,976.40 L1454.0,976.40 L1456.0,976.40 L1458.0,976.41 L1460.0,976.41 L1462.0,976.41 L1464.0,976.41 L1466.0,976.42 L1468.0,976.42 L1470.0,976.42 L1472.0,976.42 L1474.0,976.42 L1476.0,976.42 L1478.0,976.43 L1480.0,976.43 L1482.0,976.43 L1484.0,976.43 L1486.0,976.43 L1488.0,976.43 L1490.0,976.44 L1492.0,976.44 L1494.0,976.44 L1496.0,976.44 L1498.0,976.44 L1500.0,976.44"/>
</g>
<g shape-rendering="crispEdges">
<rect x="1018.2" y="179.25" width="125.8" height="7.2" fill="#f00"/>
<rect x="1018.2" y="179.25" width="3.8" height="2" fill="#fff"/>
<rect x="1142" y="179.25" width="2" height="2" fill="#fff"/>
<rect x="1018.2" y="247.35" width="125.8" height="7.2" fill="#00f"/>
<rect x="1018.2" y="247.35" width="3.8" height="2" fill="#fff"/>
<rect x="1142" y="247.35" width="2" height="2" fill="#fff"/>
<rect x="1018.2" y="315.45" width="125.8" height="7.2" fill="#009100"/>
<rect x="1018.2" y="315.45" width="3.8" height="2" fill="#fff"/>
<rect x="1142" y="315.45" width="2" height="2" fill="#fff"/>
</g>
<text x="179.8" y="1073.8" text-anchor="end">0.0</text>
<text x="179.8" y="884.0" text-anchor="end">0.1</text>
<text x="179.8" y="695.7" text-anchor="end">0.2</text>
<text x="179.8" y="507.3" text-anchor="end">0.3</text>
<text x="179.8" y="319.0" text-anchor="end">0.4</text>
<text x="179.8" y="130.7" text-anchor="end">0.5</text>
<text x="213.3" y="1135.1" text-anchor="middle">200</text>
<text x="428.2" y="1135.1" text-anchor="middle">250</text>
<text x="643.5" y="1135.1" text-anchor="middle">300</text>
<text x="857.9" y="1135.1" text-anchor="middle">350</text>
<text x="1071.6" y="1135.1" text-anchor="middle">400</text>
<text x="1285.5" y="1135.1" text-anchor="middle">450</text>
<text x="1500.4" y="1135.1" text-anchor="middle">500</text>
<text x="856.5" y="1220.9" text-anchor="middle">Wavelength (nm)</text>
<text transform="translate(59.7,664.7) rotate(-90)">Absorbance</text>
<text x="690.2" y="134.0">Different exposure time (min)</text>
<text x="1319.8" y="201.5">5</text>
<text x="1319.8" y="269.7">10</text>
<text x="1319.8" y="337.7">15</text>
<text x="881.3" y="509.5">Avg. power =150 mW</text>
</svg></body></html>
